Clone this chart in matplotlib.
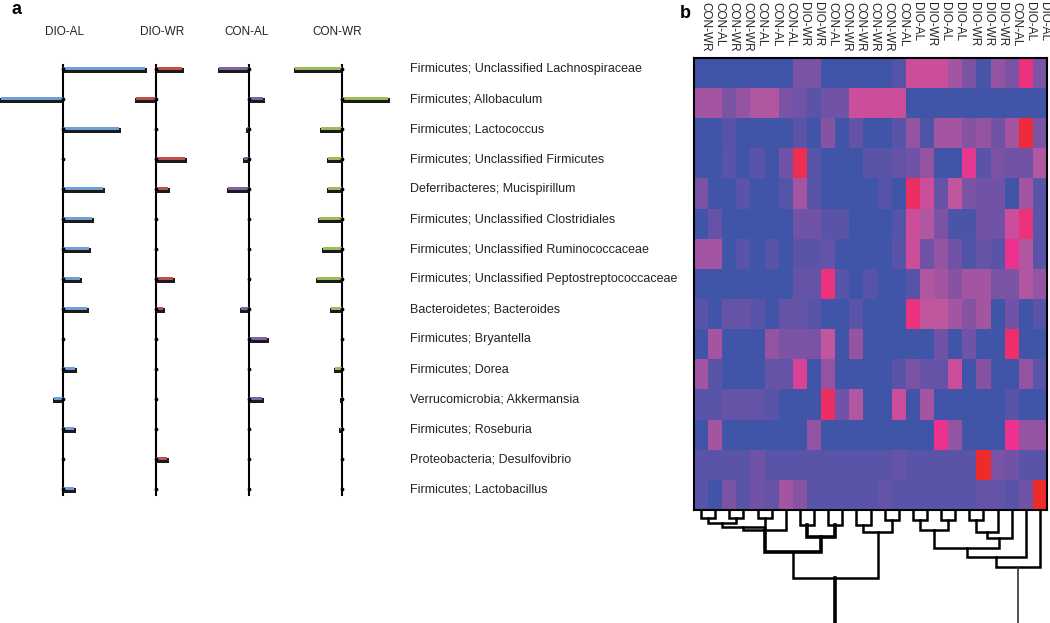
import numpy as np
import matplotlib
matplotlib.use("Agg")
import matplotlib.pyplot as plt
from matplotlib.colors import LinearSegmentedColormap
from matplotlib.transforms import blended_transform_factory

plt.rcParams['font.family'] = ['Liberation Sans', 'DejaVu Sans']

# taxa (rows, top to bottom)
taxa = ["Firmicutes; Unclassified Lachnospiraceae", "Firmicutes; Allobaculum",
        "Firmicutes; Lactococcus", "Firmicutes; Unclassified Firmicutes",
        "Deferribacteres; Mucispirillum", "Firmicutes; Unclassified Clostridiales",
        "Firmicutes; Unclassified Ruminococcaceae",
        "Firmicutes; Unclassified Peptostreptococcaceae",
        "Bacteroidetes; Bacteroides", "Firmicutes; Bryantella", "Firmicutes; Dorea",
        "Verrucomicrobia; Akkermansia", "Firmicutes; Roseburia",
        "Proteobacteria; Desulfovibrio", "Firmicutes; Lactobacillus"]

# panel a: group changes
groups = ["DIO-AL", "DIO-WR", "CON-AL", "CON-WR"]
group_colors = ["#6f9fd8", "#c0504d", "#8064a2", "#9bbb59"]
dio_al = [82, -62, 56, 0, 40, 29, 26, 17, 24, 0, 12, -9, 11, 0, 11]
dio_wr = [26, -20, 0, 29, 12, 0, 0, 17, 7, 0, 0, 0, 0, 11, 0]
con_al = [-30, 14, -2, -5, -21, 0, 0, 0, -8, 18, 0, 13, 0, 0, 0]
con_wr = [-47, 46, -21, -14, -14, -23, -19, -25, -11, 0, -7, -1, -2, 0, 0]

# panel b: samples (columns)
samples = ["CON-WR", "CON-AL", "CON-WR", "CON-WR", "CON-AL", "CON-AL", "CON-AL",
           "DIO-WR", "DIO-WR", "CON-AL", "CON-WR", "CON-WR", "CON-WR", "CON-WR",
           "CON-AL", "DIO-AL", "DIO-WR", "DIO-AL", "DIO-AL", "DIO-WR", "DIO-WR",
           "DIO-WR", "CON-AL", "DIO-AL", "DIO-AL"]

heat = [
    [.05, .05, .05, .05, .05, .05, .05, .45, .45, .05, .05, .05, .05, .05, .25, .75, .75, .75, .6, .45, .15, .55, .45, .9, .45],
    [.6, .6, .45, .55, .65, .65, .45, .4, .3, .4, .4, .75, .75, .75, .75, .05, .05, .05, .05, .05, .05, .05, .05, .05, .05],
    [.05, .05, .25, .05, .05, .05, .05, .3, .05, .5, .05, .35, .05, .05, .3, .55, .2, .6, .6, .5, .55, .4, .6, .98, .45],
    [.05, .05, .3, .05, .3, .05, .4, .95, .3, .05, .05, .05, .3, .3, .35, .4, .55, .05, .05, .85, .3, .45, .4, .4, .65],
    [.45, .05, .05, .3, .05, .05, .25, .6, .3, .05, .05, .05, .05, .25, .05, .93, .75, .35, .7, .45, .4, .4, .05, .6, .3],
    [.05, .35, .05, .05, .05, .05, .05, .4, .4, .3, .3, .05, .05, .05, .25, .75, .65, .45, .15, .15, .4, .4, .75, .9, .3],
    [.6, .6, .05, .3, .05, .3, .05, .3, .3, .35, .05, .05, .05, .05, .3, .75, .4, .55, .4, .2, .35, .3, .88, .65, .3],
    [.05, .05, .05, .05, .05, .05, .05, .35, .35, .9, .25, .05, .25, .05, .05, .25, .65, .6, .5, .6, .6, .45, .45, .65, .55],
    [.3, .05, .35, .35, .3, .05, .35, .35, .3, .05, .05, .3, .05, .05, .05, .9, .7, .7, .6, .5, .6, .05, .4, .05, .3],
    [.05, .6, .05, .05, .05, .55, .45, .45, .45, .7, .05, .55, .05, .05, .05, .05, .05, .4, .05, .4, .05, .05, .92, .05, .05],
    [.6, .3, .05, .05, .05, .35, .35, .8, .05, .55, .05, .05, .05, .05, .3, .45, .35, .35, .75, .05, .5, .05, .05, .55, .3],
    [.3, .3, .35, .35, .35, .3, .05, .05, .05, .93, .4, .65, .05, .05, .75, .05, .6, .05, .05, .05, .05, .05, .3, .05, .05],
    [.05, .6, .05, .05, .05, .05, .05, .05, .55, .05, .05, .05, .05, .05, .05, .05, .05, .88, .55, .05, .05, .05, .88, .55, .55],
    [.3, .3, .3, .3, .4, .3, .3, .3, .3, .3, .3, .3, .3, .3, .35, .3, .3, .3, .3, .3, 1.0, .45, .4, .3, .3],
    [.3, .05, .45, .3, .4, .35, .6, .5, .3, .3, .3, .3, .3, .35, .3, .3, .3, .3, .3, .3, .35, .35, .28, .4, 1.0],
]

# dendrogram merges: (node a, node b, height); leaves are 0..24, merges 25..
merges = [(0, 1, 8), (2, 3, 8), (4, 5, 8), (25, 26, 13), (28, 27, 17), (29, 6, 20),
          (7, 8, 15), (9, 10, 15), (31, 32, 27), (30, 33, 42), (11, 12, 15),
          (13, 14, 10), (35, 36, 22), (34, 37, 68),
          (15, 16, 10), (17, 18, 10), (39, 40, 20), (19, 20, 10), (42, 21, 22),
          (43, 22, 28), (41, 44, 38), (45, 23, 47), (46, 24, 57), (38, 47, 140)]

W, H = 1050, 623
fig = plt.figure(figsize=(W / 100, H / 100), dpi=100)
fig.patch.set_facecolor('white')

# ---- panel a ----
axa = fig.add_axes([0, (H - 504) / H, 400 / W, 450 / H])
axa.set_xlim(0, 400)
axa.set_ylim(14.5, -0.5)
axa.axis('off')
rows = np.arange(len(taxa))
group_x = [63, 156, 249, 342]
header_x = [65, 162, 247, 337]
bar_vals = [dio_al, dio_wr, con_al, con_wr]
for name, vals, col, x0 in zip(groups, bar_vals, group_colors, group_x):
    axa.plot([x0, x0], [-0.12, 14.2], color='black', lw=1.5, zorder=1)
    vals = np.array(vals, dtype=float)
    axa.barh(rows + 0.04, vals + np.sign(vals) * 1.5, left=x0, height=0.16,
             color='#1a1a1a', zorder=2)
    axa.barh(rows - 0.02, vals, left=x0, height=0.09, color=col, zorder=3)
    axa.scatter(np.full(len(rows), x0), rows, s=3, color='black', zorder=4)

tr = blended_transform_factory(axa.transData, fig.transFigure)
for name, hx in zip(groups, header_x):
    fig.text(hx, 1 - 32 / H, name, transform=tr, ha='center', va='center',
             fontsize=8.5, color='#222222')

for i, t in enumerate(taxa):
    axa.text(410, i, t, ha='left', va='center', fontsize=9, color='#222222',
             clip_on=False)

fig.text(12 / W, 1 - 9 / H, "a", fontsize=13, fontweight='bold', ha='left', va='center')
fig.text(680 / W, 1 - 13 / H, "b", fontsize=13, fontweight='bold', ha='left', va='center')

# ---- panel b heatmap ----
cmap = LinearSegmentedColormap.from_list(
    "bp", [(0, "#3c56a8"), (0.3, "#5a54a8"), (0.5, "#8653a4"), (0.7, "#c0589f"),
           (0.88, "#ec3390"), (1.0, "#ee2a2a")])
hx0, hx1 = 694, 1047
axh = fig.add_axes([hx0 / W, (H - 510) / H, (hx1 - hx0) / W, 452 / H])
axh.imshow(np.array(heat), cmap=cmap, vmin=0, vmax=1, aspect='auto',
           interpolation='nearest')
axh.set_xticks([])
axh.set_yticks([])
for s in axh.spines.values():
    s.set_linewidth(1.5)
    s.set_color('black')

trh = blended_transform_factory(axh.transData, fig.transFigure)
for i, lab in enumerate(samples):
    axh.text(i + 0.3, 1 - 2 / H, lab, transform=trh, rotation=270, ha='center',
             va='top', fontsize=8.5, color='#222222')

# ---- dendrogram ----
axd = fig.add_axes([hx0 / W, 0, (hx1 - hx0) / W, 113 / H])
axd.set_xlim(-0.5, len(samples) - 0.5)
axd.set_ylim(113, 0)
axd.axis('off')
pos = {i: (float(i), 0.0) for i in range(len(samples))}
thick = {33, 34}
for k, (a, b, h) in enumerate(merges):
    node = len(samples) + k
    xa, ha = pos[a]
    xb, hb = pos[b]
    lw = 2.6 if node in thick else 1.8
    if node == len(samples) + len(merges) - 1:
        axd.plot([xa, xa], [ha, h], color='black', lw=2.6)
        axd.plot([xb, xb], [hb, h], color='#333333', lw=1.2)
        continue
    axd.plot([xa, xa, xb, xb], [ha, h, h, hb], color='black', lw=lw,
             solid_joinstyle='miter')
    pos[node] = ((xa + xb) / 2, h)

fig.savefig("out.png", dpi=100, facecolor='white')
